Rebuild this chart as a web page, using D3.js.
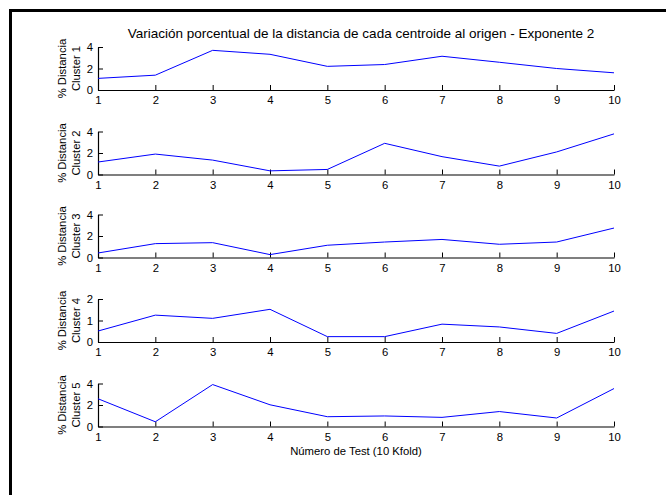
<!DOCTYPE html>
<html>
<head>
<meta charset="utf-8">
<script src="https://cdn.jsdelivr.net/npm/d3@7"></script>
<style>
  html, body { margin: 0; background: #fff; overflow: hidden; }
  svg { display: block; font-family: "Liberation Sans", Arial, sans-serif; }
</style>
</head>
<body>
<svg></svg>
<script>
const tests = [1, 2, 3, 4, 5, 6, 7, 8, 9, 10];
const clusters = ["Cluster 1", "Cluster 2", "Cluster 3", "Cluster 4", "Cluster 5"];

const cluster1 = [1.08, 1.38, 3.69, 3.32, 2.2, 2.37, 3.14, 2.58, 2.0, 1.6];
const cluster2 = [1.16, 1.9, 1.34, 0.34, 0.47, 2.9, 1.66, 0.78, 2.1, 3.78];
const cluster3 = [0.42, 1.29, 1.38, 0.27, 1.14, 1.44, 1.68, 1.23, 1.44, 2.74];
const cluster4 = [0.51, 1.25, 1.1, 1.52, 0.25, 0.25, 0.83, 0.7, 0.4, 1.44];
const cluster5 = [2.58, 0.44, 3.9, 2.02, 0.91, 0.98, 0.85, 1.39, 0.79, 3.53];
const series = [cluster1, cluster2, cluster3, cluster4, cluster5];

const yMax = [4, 4, 4, 2, 4];
const yTicks = [[0, 2, 4], [0, 2, 4], [0, 2, 4], [0, 1, 2], [0, 2, 4]];

const title = "Variación porcentual de la distancia de cada centroide al origen - Exponente 2";
const xTitle = "Número de Test (10 Kfold)";

const svg = d3.select("svg").attr("width", 666).attr("height", 495);

// frame (only left/top edges fall inside the picture)
svg.append("path")
  .attr("d", "M10.5,495V10.5H666")
  .attr("fill", "none")
  .attr("stroke", "#000")
  .attr("stroke-width", 3);

const left = 98, right = 614;
const tops = [47, 131.5, 214.5, 299, 383.5];
const plotH = 43;

const x = d3.scaleLinear().domain([1, 10]).range([left, right]);

series.forEach((vals, i) => {
  const top = tops[i];
  const y = d3.scaleLinear().domain([0, yMax[i]]).range([top + plotH, top]);
  const g = svg.append("g");

  g.append("g")
    .attr("transform", `translate(0,${top + plotH})`)
    .call(d3.axisBottom(x).tickValues(tests).tickFormat(d3.format("d"))
      .tickSizeInner(-5).tickSizeOuter(0).tickPadding(6))
    .call((a) => a.select(".domain").attr("stroke-width", 1.2));

  g.append("g")
    .attr("transform", `translate(${left},0)`)
    .call(d3.axisLeft(y).tickValues(yTicks[i]).tickFormat(d3.format("d"))
      .tickSizeInner(-5).tickSizeOuter(0).tickPadding(5))
    .call((a) => a.select(".domain").attr("stroke-width", 1.2));

  g.selectAll(".tick text").attr("font-size", 11.3).attr("font-family", null).attr("fill", "#000");

  g.append("path")
    .datum(vals)
    .attr("fill", "none")
    .attr("stroke", "#0000ff")
    .attr("stroke-width", 1)
    .attr("d", d3.line().x((d, j) => x(tests[j])).y((d) => y(d)));

  const cy = top + plotH / 2;
  const lab = g.append("text")
    .attr("transform", `translate(69,${cy}) rotate(-90)`)
    .attr("text-anchor", "middle")
    .attr("font-size", 11.3);
  lab.append("tspan").attr("x", 0).attr("y", -3).text("% Distancia");
  lab.append("tspan").attr("x", 0).attr("y", 11).text(clusters[i]);
});

svg.append("text")
  .attr("x", (left + right) / 2 + 5)
  .attr("y", 38)
  .attr("text-anchor", "middle")
  .attr("font-size", 13.5)
  .text(title);

svg.append("text")
  .attr("x", (left + right) / 2)
  .attr("y", 455)
  .attr("text-anchor", "middle")
  .attr("font-size", 11.3)
  .text(xTitle);
</script>
</body>
</html>
